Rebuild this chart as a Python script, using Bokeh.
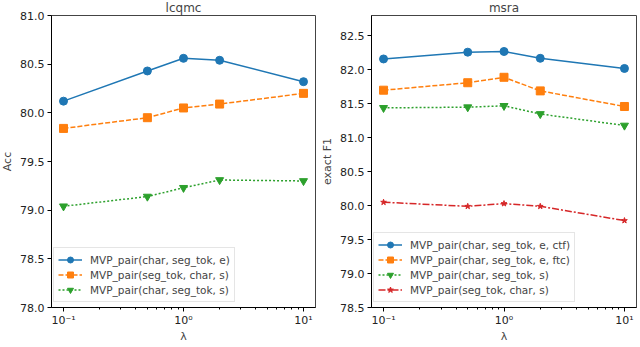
from bokeh.plotting import figure
from bokeh.layouts import row
from bokeh.models import Range1d, FixedTicker, CustomJSTickFormatter, Legend
from bokeh.embed import file_html
from bokeh.resources import INLINE

lam = [0.1, 0.5, 1.0, 2.0, 10.0]

lcqmc_char_seg_e = [80.12, 80.43, 80.56, 80.54, 80.32]
lcqmc_seg_char_s = [79.84, 79.95, 80.05, 80.09, 80.20]
lcqmc_char_seg_s = [79.04, 79.14, 79.23, 79.31, 79.30]

msra_char_seg_e_ctf = [82.16, 82.26, 82.27, 82.17, 82.02]
msra_char_seg_e_ftc = [81.70, 81.81, 81.89, 81.69, 81.46]
msra_char_seg_s = [81.44, 81.45, 81.47, 81.35, 81.18]
msra_seg_char_s = [80.05, 79.99, 80.03, 79.99, 79.78]

lcqmc_labels = ["MVP_pair(char, seg_tok, e)", "MVP_pair(seg_tok, char, s)", "MVP_pair(char, seg_tok, s)"]
msra_labels = ["MVP_pair(char, seg_tok, e, ctf)", "MVP_pair(char, seg_tok, e, ftc)",
               "MVP_pair(char, seg_tok, s)", "MVP_pair(seg_tok, char, s)"]

FONT = "DejaVu Sans"
C = ["#1f77b4", "#ff7f0e", "#2ca02c", "#d62728"]
DASH = ["solid", "5 2", "2 2", "7 2 2 2"]
MARK = ["circle", "square", "inverted_triangle", "star"]
MSIZE = [8, 8, 8, 6]

minor = [0.2, 0.3, 0.4, 0.5, 0.6, 0.7, 0.8, 0.9, 2, 3, 4, 5, 6, 7, 8, 9]


def make(title, ylabel, ys, labels, yr, yticks, bl, br, legloc):
    p = figure(width=320, height=347, x_axis_type="log", output_backend="svg",
               toolbar_location=None, x_range=Range1d(10 ** -1.1, 10 ** 1.1),
               y_range=Range1d(*yr), min_border_left=bl, min_border_right=br,
               min_border_top=14, min_border_bottom=30)
    p.title.text = title
    p.title.align = "center"
    p.title.text_font = FONT
    p.title.text_font_size = "12px"
    p.title.text_font_style = "normal"
    p.title.standoff = 1
    p.title.offset = 0
    p.xgrid.visible = False
    p.ygrid.visible = False
    p.outline_line_color = "#444444"
    p.outline_line_width = 1
    p.background_fill_color = "white"
    p.border_fill_color = "white"
    p.xaxis.ticker = FixedTicker(ticks=[0.1, 1, 10], minor_ticks=minor)
    p.xaxis.formatter = CustomJSTickFormatter(code="""
        const m = {'-1': '10\u207b\u00b9', '0': '10\u2070', '1': '10\u00b9'};
        const e = Math.round(Math.log10(tick));
        return m[String(e)];
    """)
    p.yaxis.ticker = FixedTicker(ticks=yticks)
    p.yaxis.formatter = CustomJSTickFormatter(code="return tick.toFixed(1);")
    p.yaxis.minor_tick_line_color = None
    for ax in (p.xaxis[0], p.yaxis[0]):
        ax.major_tick_in = 0
        ax.major_tick_out = 4
        ax.minor_tick_in = 0
        ax.minor_tick_out = 2
        ax.axis_line_color = "black"
        ax.major_tick_line_color = "black"
        ax.major_label_text_font = FONT
        ax.major_label_text_font_size = "11px"
        ax.major_label_text_color = "#222222"
        ax.axis_label_text_font = FONT
        ax.axis_label_text_font_size = "11px"
        ax.axis_label_text_font_style = "normal"
        ax.major_label_standoff = 3
    p.xaxis.minor_tick_line_color = "black"
    p.xaxis.major_label_standoff = 2
    p.xaxis.axis_label = "λ"
    p.xaxis.axis_label_standoff = 0
    p.yaxis.axis_label = ylabel
    p.yaxis.axis_label_standoff = 3

    items = []
    for i, y in enumerate(ys):
        ln = p.line(lam, y, line_color=C[i], line_width=1.5, line_dash=DASH[i])
        sc = p.scatter(lam, y, marker=MARK[i], size=MSIZE[i], fill_color=C[i], line_color=C[i])
        items.append((labels[i], [ln, sc]))
    leg = Legend(items=items, location=legloc)
    leg.margin = 0
    leg.padding = 4
    leg.spacing = 0
    leg.label_text_font = FONT
    leg.label_text_font_size = "10.5px"
    leg.label_height = 15
    leg.glyph_height = 15
    leg.glyph_width = 24
    leg.label_standoff = 8
    leg.border_line_color = "#cccccc"
    leg.border_line_width = 1
    leg.background_fill_alpha = 0.8
    p.add_layout(leg)
    return p


p1 = make("lcqmc", "Acc", [lcqmc_char_seg_e, lcqmc_seg_char_s, lcqmc_char_seg_s], lcqmc_labels,
          (78.0, 81.0), [78.0, 78.5, 79.0, 79.5, 80.0, 80.5, 81.0], 46, 3, (2, 5))
p2 = make("msra", "exact F1", [msra_char_seg_e_ctf, msra_char_seg_e_ftc, msra_char_seg_s, msra_seg_char_s],
          msra_labels, (78.5, 82.8), [78.5, 79.0, 79.5, 80.0, 80.5, 81.0, 81.5, 82.0, 82.5], 50, 2, (2, 5))

layout = row(p1, p2, margin=(-2, 0, 0, -2))
open("out.html", "w").write(file_html(layout, INLINE))
